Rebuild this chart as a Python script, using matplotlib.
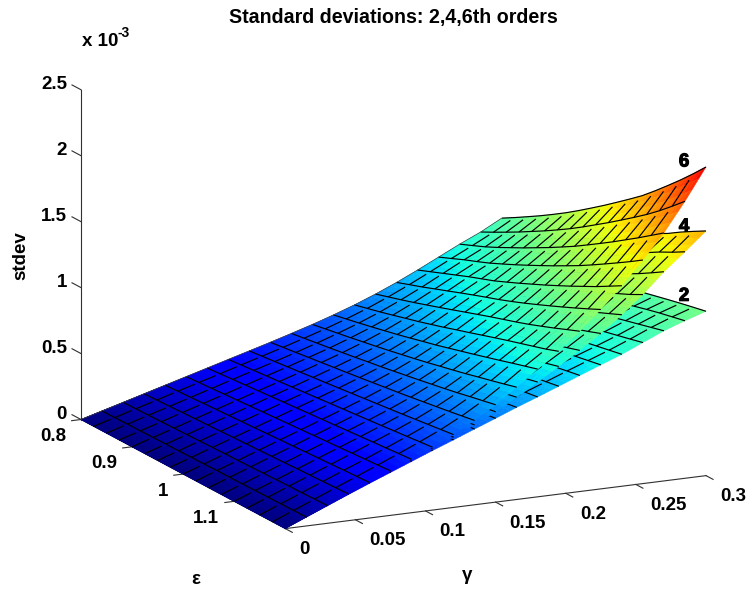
import numpy as np
import matplotlib
matplotlib.use("Agg")
import matplotlib.pyplot as plt
import matplotlib.patheffects as pe
from matplotlib import cm
from matplotlib.colors import Normalize
from mpl_toolkits.mplot3d import proj3d
from mpl_toolkits.mplot3d.art3d import Poly3DCollection, Line3DCollection

plt.rcParams["font.family"] = ["Liberation Sans", "DejaVu Sans"]
plt.rcParams["font.weight"] = "bold"

eps = np.array([0.8, 0.825, 0.85, 0.875, 0.9, 0.925, 0.95, 0.975, 1.0,
                1.025, 1.05, 1.075, 1.1, 1.125, 1.15, 1.175, 1.2])
gamma = np.array([0, 0.015, 0.03, 0.045, 0.06, 0.075, 0.09, 0.105, 0.12, 0.135, 0.15,
                  0.165, 0.18, 0.195, 0.21, 0.225, 0.24, 0.255, 0.27, 0.285, 0.3])

# stdev in units of 1e-6, one row per gamma, one column per eps
z2 = np.array([
    [0]*17,
    [44,45,47,48,50,51,52,54,55,56,58,59,60,62,63,65,66],
    [88,91,94,96,99,102,105,107,110,113,116,118,121,124,127,129,132],
    [132,136,140,144,148,152,157,161,165,169,173,177,181,185,189,193,198],
    [176,181,187,192,198,203,208,214,219,224,230,235,240,246,251,257,262],
    [219,226,232,239,245,252,259,265,272,278,285,291,298,304,311,318,325],
    [262,270,278,286,294,301,309,317,325,333,341,349,357,365,372,380,388],
    [304,313,322,331,340,349,358,368,377,387,396,405,414,423,433,442,451],
    [345,356,366,377,388,398,409,420,430,441,451,462,472,482,492,502,512],
    [388,400,412,423,435,447,459,471,482,493,504,516,527,539,550,562,574],
    [430,443,456,469,482,494,507,520,532,545,558,571,584,597,609,622,635],
    [472,486,499,513,527,541,556,570,584,598,612,626,640,655,669,683,698],
    [512,527,543,558,574,589,604,620,635,651,666,682,698,713,728,742,757],
    [553,570,586,603,620,636,653,670,687,704,720,736,752,768,785,801,818],
    [594,612,630,648,666,685,703,720,738,755,772,790,807,825,843,862,880],
    [635,655,674,694,713,731,750,768,787,806,825,845,864,884,902,921,940],
    [677,698,718,738,757,777,797,818,838,859,880,900,920,940,960,980,1000],
    [718,739,760,781,802,824,846,868,890,911,933,954,975,996,1020,1044,1069],
    [757,780,802,825,849,872,895,918,940,963,985,1008,1034,1060,1086,1112,1138],
    [797,821,846,871,895,919,942,966,990,1015,1042,1070,1098,1125,1150,1172,1194],
    [838,864,890,915,940,965,990,1017,1045,1074,1104,1132,1156,1180,1203,1225,1246],
])
z4 = np.array([
    [0]*17,
    [45,46,48,49,50,52,53,54,56,57,59,60,61,63,64,66,67],
    [89,92,95,97,100,103,106,109,112,114,117,120,123,125,128,131,134],
    [134,138,142,146,151,155,159,163,167,171,175,180,184,188,192,196,200],
    [178,184,189,195,200,206,211,217,222,228,233,239,244,250,255,261,266],
    [222,229,236,242,249,256,263,270,276,283,290,297,304,310,317,324,331],
    [266,274,282,291,299,307,315,323,331,339,347,355,363,371,380,388,396],
    [310,319,328,338,347,356,366,375,385,395,404,414,424,434,444,454,464],
    [352,363,374,385,396,407,418,430,441,452,464,475,486,498,509,520,532],
    [396,409,421,434,447,459,472,485,498,510,523,537,550,564,577,591,605],
    [441,455,469,483,498,512,526,541,556,571,586,602,618,633,651,668,685],
    [486,502,518,533,550,566,583,600,617,635,654,673,692,713,734,754,775],
    [532,550,568,586,605,624,644,664,685,708,730,753,775,797,821,846,870],
    [580,600,621,642,664,687,711,736,760,784,809,835,862,888,915,941,968],
    [630,654,678,704,730,756,782,809,837,866,894,923,951,980,1009,1039,1070],
    [685,713,741,769,797,827,858,888,919,949,980,1011,1044,1077,1109,1142,1178],
    [745,775,805,837,870,902,935,968,1000,1035,1070,1105,1140,1178,1215,1257,1300],
    [805,840,874,909,943,978,1013,1050,1088,1125,1163,1203,1247,1292,1337,1382,1433],
    [870,907,943,980,1018,1057,1096,1136,1178,1220,1268,1316,1364,1415,1468,1526,1586],
    [935,974,1013,1055,1096,1138,1182,1228,1279,1329,1380,1435,1493,1556,1612,1662,1717],
    [1000,1044,1088,1131,1178,1226,1279,1332,1385,1444,1506,1573,1628,1681,1743,1800,1855],
])
z6 = np.array([
    [0]*17,
    [45,46,48,49,51,52,53,55,56,58,59,60,62,63,65,66,68],
    [90,93,96,98,101,104,107,110,113,115,118,121,124,127,129,132,135],
    [135,139,143,148,152,156,160,165,169,173,177,181,186,190,194,198,203],
    [180,186,191,197,203,208,214,219,225,231,236,242,248,253,259,264,270],
    [225,232,239,246,253,260,267,274,281,288,295,302,309,316,323,330,338],
    [270,278,287,295,304,312,321,329,338,346,354,363,371,380,388,397,405],
    [315,325,335,345,354,364,374,384,394,404,414,424,434,445,455,466,476],
    [360,371,382,394,405,417,428,440,452,464,476,488,500,513,526,539,552],
    [405,418,431,445,458,472,485,499,513,528,542,557,573,589,605,622,639],
    [452,467,482,497,513,529,546,562,580,598,616,635,654,674,696,717,738],
    [500,518,536,554,573,592,612,633,654,676,700,723,747,773,798,824,851],
    [552,573,594,616,639,662,687,713,738,766,794,822,851,880,910,939,968],
    [608,633,658,685,713,740,770,800,832,863,895,927,958,988,1018,1048,1083],
    [670,700,730,761,794,827,861,895,929,963,995,1027,1061,1098,1136,1176,1215],
    [738,773,807,844,880,917,953,988,1022,1059,1098,1139,1181,1224,1268,1313,1360],
    [812,851,890,929,968,1004,1040,1082,1125,1170,1215,1262,1310,1360,1410,1465,1520],
    [890,931,973,1011,1051,1096,1142,1190,1239,1289,1341,1394,1451,1510,1570,1631,1695],
    [968,1009,1051,1098,1148,1198,1251,1304,1360,1417,1479,1542,1606,1673,1740,1810,1880],
    [1040,1090,1142,1195,1251,1307,1366,1427,1492,1560,1628,1699,1771,1845,1925,2011,2100],
    [1125,1181,1239,1298,1360,1424,1492,1563,1635,1710,1786,1864,1952,2044,2138,2237,2340],
])

z_ticks = [0, 0.5, 1, 1.5, 2, 2.5]
z_labels = ["0", "0.5", "1", "1.5", "2", "2.5"]
eps_ticks = [0.8, 0.9, 1, 1.1]
eps_labels = ["0.8", "0.9", "1", "1.1"]
gamma_ticks = [0, 0.05, 0.1, 0.15, 0.2, 0.25, 0.3]
gamma_labels = ["0", "0.05", "0.1", "0.15", "0.2", "0.25", "0.3"]

W, H = 751, 592
fig = plt.figure(figsize=(W / 100, H / 100), dpi=100)
ax = fig.add_axes([0.1, 0.1, 0.8, 0.8], projection="3d", computed_zorder=False)
ax.set_proj_type("ortho")
ax.set_box_aspect((1, 1, 0.73))
ax.view_init(elev=15.03, azim=-25.9)
ax.set_xlim(0.8, 1.2)
ax.set_ylim(0, 0.3)
ax.set_zlim(0, 2.5)
ax.set_axis_off()


def to_pixels(x, y, z):
    px, py, _ = proj3d.proj_transform(x, y, z, ax.get_proj())
    return ax.transData.transform((px, py))


# fit the box onto the reference: origin corner and far gamma corner
target_a = np.array([81, H - 419.5])
target_b = np.array([706, H - 476])
for _ in range(3):
    fig.canvas.draw()
    a = to_pixels(0.8, 0, 0)
    b = to_pixels(1.2, 0.3, 0)
    k = np.linalg.norm(target_b - target_a) / np.linalg.norm(b - a)
    pos = ax.get_position()
    centre = np.array([(pos.x0 + pos.width / 2) * W, (pos.y0 + pos.height / 2) * H])
    new_centre = target_a - k * (a - centre)
    w, h = pos.width * k, pos.height * k
    ax.set_position([new_centre[0] / W - w / 2, new_centre[1] / H - h / 2, w, h])
fig.canvas.draw()

norm = Normalize(0, 2.55)


def add_surface(z, order, sub=3):
    z = np.asarray(z) / 1000
    polys, vals = [], []
    s = np.linspace(0, 1, sub + 1)
    # each cell is split only to shade it smoothly, like shading interp
    for i in range(len(gamma) - 1):
        for j in range(len(eps) - 1):
            for a in range(sub):
                for b in range(sub):
                    quad, zs = [], []
                    for sa, sb in ((a, b), (a + 1, b), (a + 1, b + 1), (a, b + 1)):
                        u, v = s[sa], s[sb]
                        zv = (z[i, j] * (1 - u) * (1 - v) + z[i + 1, j] * u * (1 - v)
                              + z[i, j + 1] * (1 - u) * v + z[i + 1, j + 1] * u * v)
                        quad.append((eps[j] + v * (eps[j + 1] - eps[j]),
                                     gamma[i] + u * (gamma[i + 1] - gamma[i]), zv))
                        zs.append(zv)
                    polys.append(quad)
                    vals.append(np.mean(zs))
    colors = cm.jet(norm(vals))
    surf = Poly3DCollection(polys, facecolors=colors, edgecolors=colors, linewidths=0.3,
                            zorder=order)
    ax.add_collection3d(surf, autolim=False)
    # constant-gamma lines run the whole way, gamma-direction strokes stop short
    segs = []
    for i in range(1, len(gamma)):
        segs.append([(e, gamma[i], z[i, j]) for j, e in enumerate(eps)])
    for i in range(len(gamma) - 1):
        for j in range(1, len(eps) - 1):
            p = np.array((eps[j], gamma[i], z[i, j]))
            q = np.array((eps[j], gamma[i + 1], z[i + 1, j]))
            segs.append([p, p + 0.8 * (q - p)])
    ax.add_collection3d(Line3DCollection(segs, colors="k", linewidths=0.85, zorder=order + 0.5),
                        autolim=False)
    edge = [(eps[0], g, z[i, 0]) for i, g in enumerate(gamma)]
    ax.add_collection3d(Line3DCollection([edge], colors="#404040", linewidths=0.5, zorder=order + 0.5),
                        autolim=False)


# axes lines and ticks
line_kw = dict(color="#303030", lw=0.8, zorder=0.5)
ax.plot([0.8, 0.8], [0, 0], [0, 2.5], **line_kw)
ax.plot([1.2, 1.2], [0, 0.3], [0, 0], **line_kw)
ax.plot([0.8, 1.2], [0, 0], [0, 0], **line_kw)
for v in z_ticks:
    ax.plot([0.8, 0.8 - 0.0176], [0, 0], [v, v], **line_kw)
for v in eps_ticks:
    ax.plot([v, v], [0, -0.0067], [0, 0], **line_kw)
for v in gamma_ticks:
    ax.plot([1.2, 1.2 + 0.0137], [v, v], [0, 0], **line_kw)

add_surface(z2, 1)
add_surface(z4, 2)
add_surface(z6, 3)


def ftext(x, y, s, **kw):
    kw.setdefault("fontsize", 13.5)
    return fig.text(x / W, 1 - y / H, s, **kw)


def label(x, y, z, s, dx, dy, **kw):
    px, py = to_pixels(x, y, z)
    return ftext(px + dx, H - py + dy, s, va="center", **kw)


for v, s in zip(z_ticks, z_labels):
    label(0.8, 0, v, s, -14, -5, ha="right")
for v, s in zip(eps_ticks, eps_labels):
    label(v, 0, 0, s, -15, 17, ha="right")
for v, s in zip(gamma_ticks, gamma_labels):
    label(1.2, v, 0, s, 14, 21, ha="left")

for z, s, dy in ((z6, "6", -5), (z4, "4", -4), (z2, "2", -15)):
    t = label(1.2, 0.3, z[-1, -1] / 1000, s, -22, dy, ha="center")
    t.set_path_effects([pe.withStroke(linewidth=0.8, foreground="k")])

ftext(393, 17, "Standard deviations: 2,4,6th orders", ha="center", va="center", fontsize=14.1)
ftext(82, 41, "x 10", ha="left", va="center")
ftext(117, 33, "-3", ha="left", va="center", fontsize=10)
ftext(21, 256, "stdev", ha="center", va="center", rotation=90)
ftext(196, 579, "\u03b5", ha="center", va="center")
ftext(467, 575, "\u03b3", ha="center", va="center")

fig.savefig("out.png", dpi=100)
